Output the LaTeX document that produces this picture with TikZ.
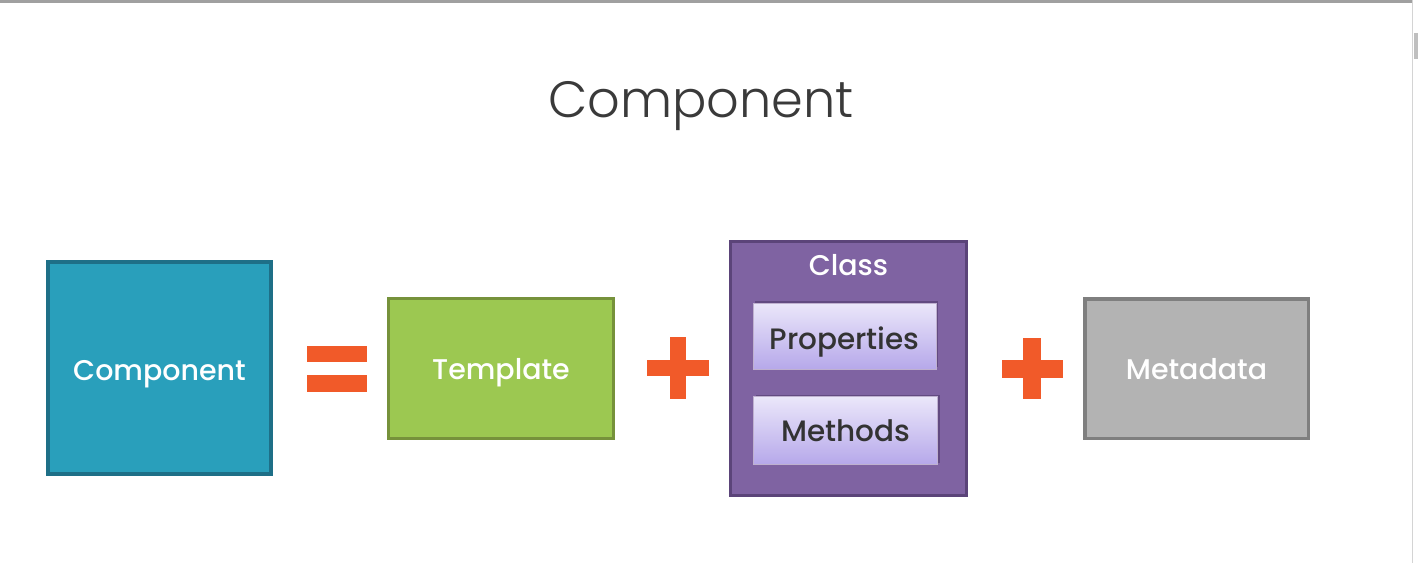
\documentclass[tikz,border=0pt]{standalone}
\usepackage{fontspec}
\setmainfont{Poppins}
\IfFontExistsTF{Poppins Light}{\newfontfamily\titlefont{Poppins Light}}{\newfontfamily\titlefont{Poppins}}
\IfFontExistsTF{Poppins Medium}{\newfontfamily\labelfont{Poppins Medium}}{\newfontfamily\labelfont{Poppins}}
\usetikzlibrary{shadows}
\definecolor{tealfill}{HTML}{299FBB}
\definecolor{tealline}{HTML}{1E6F87}
\definecolor{greenfill}{HTML}{9CC851}
\definecolor{greenline}{HTML}{76923B}
\definecolor{purplefill}{HTML}{7F63A2}
\definecolor{purpleline}{HTML}{5B4479}
\definecolor{lilactop}{HTML}{EBE7FA}
\definecolor{lilacbot}{HTML}{B6A8EA}
\definecolor{greyfill}{HTML}{B3B3B3}
\definecolor{greyline}{HTML}{7F7F7F}
\definecolor{opcolor}{HTML}{F15A29}
\definecolor{titlegrey}{HTML}{3A3A3A}
\definecolor{darktext}{HTML}{333333}
\definecolor{framegrey}{HTML}{A0A0A0}
\definecolor{scrollgrey}{HTML}{D4D4D4}
\tikzset{
  box/.style={rectangle},
  % captions are placed by their baseline
  caption/.style={anchor=base, inner sep=0pt, text=white, font=\labelfont\fontsize{28.5}{32}\selectfont},
  membercaption/.style={caption, text=darktext, font=\labelfont\fontsize{29.5}{32}\selectfont},
  member/.style={rectangle, draw=purplefill!50!white, line width=0.6pt,
    top color=lilactop, bottom color=lilacbot,
    drop shadow={shadow xshift=2pt, shadow yshift=2pt, fill=purpleline, opacity=0.8}},
  opbar/.style={fill=opcolor}
}
\begin{document}
\begin{tikzpicture}[x=1pt,y=-1pt]
\useasboundingbox (0,0) rectangle (1418,563);
\fill[white] (0,0) rectangle (1418,563);
% window frame: top rule and scrollbar
\fill[framegrey] (0,0) rectangle (1412,2.5);
\fill[scrollgrey] (1411.5,0) rectangle (1413,563);
\fill[scrollgrey!90!black] (1414,33) rectangle (1418,59);

% heading
\node[anchor=base, inner sep=0pt, text=titlegrey, font=\titlefont\fontsize{51}{56}\selectfont] (title) at (701,117) {Component};

% the parts
\node[box, draw=tealline, fill=tealfill, line width=4pt,
  minimum width=223pt, minimum height=212pt] (component) at (159.5,368) {};
\node[caption] (componenttext) at (159.5,380) {Component};

\node[box, draw=greenline, fill=greenfill, line width=3pt,
  minimum width=225pt, minimum height=140pt] (template) at (501,368.5) {};
\node[caption] (templatetext) at (501,379.5) {Template};

\node[box, draw=purpleline, fill=purplefill, line width=3pt,
  minimum width=236pt, minimum height=254pt] (class) at (848.5,368.5) {};
\node[caption] (classtext) at (848.5,275) {Class};
\node[member, minimum width=183pt, minimum height=66pt] (properties) at (844.5,336) {};
\node[membercaption] (propertiestext) at (844.5,349) {Properties};
\node[member, minimum width=184pt, minimum height=68pt] (methods) at (845.5,430.5) {};
\node[membercaption] (methodstext) at (845.5,441.5) {Methods};

\node[box, draw=greyline, fill=greyfill, line width=3.5pt,
  minimum width=223.5pt, minimum height=139.5pt] (metadata) at (1196.5,368.5) {};
\node[caption] (metadatatext) at (1196.5,379.5) {Metadata};

% operators
\fill[opbar] (307,346) rectangle (367,362);
\fill[opbar] (307,375) rectangle (367,392);
\fill[opbar] (670,337) rectangle (686,399);
\fill[opbar] (647,360) rectangle (709,376);
\fill[opbar] (1023,338) rectangle (1041,399);
\fill[opbar] (1002,360) rectangle (1063,378);
\end{tikzpicture}
\end{document}
